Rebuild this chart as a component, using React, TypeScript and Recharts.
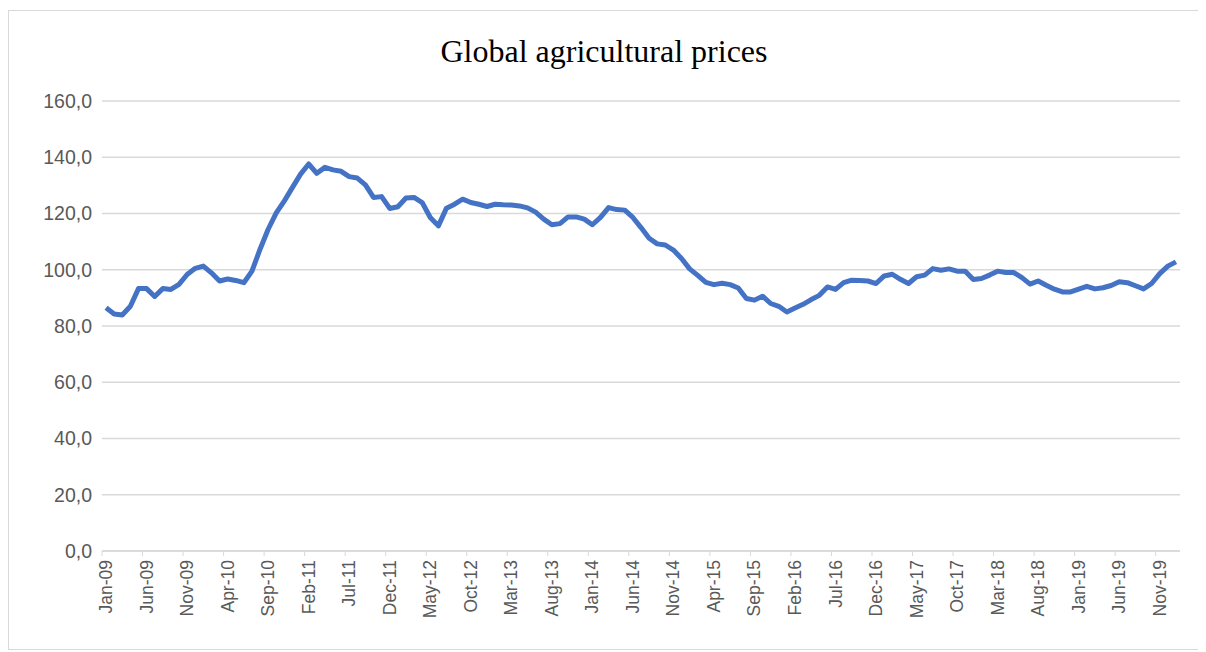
import { CartesianGrid, Line, LineChart, XAxis, YAxis } from "recharts";

// monthly index, Jan-09 .. Jan-20
const prices = [
  86.5, 84.3, 83.9, 87.0, 93.3, 93.3, 90.5, 93.3, 93.0, 94.8, 98.3, 100.5,
  101.3, 98.9, 96.0, 96.7, 96.2, 95.4, 99.5, 107.3, 114.4, 120.2, 124.5, 129.3,
  134.0, 137.6, 134.3, 136.4, 135.5, 135.0, 133.1, 132.6, 130.2, 125.7, 126.0, 121.8,
  122.4, 125.5, 125.7, 123.9, 118.6, 115.6, 121.9, 123.3, 125.1, 123.9, 123.3, 122.5,
  123.3, 123.1, 123.0, 122.7, 122.0, 120.5, 118.0, 116.0, 116.4, 118.8, 118.8, 118.0,
  116.0, 118.6, 122.1, 121.4, 121.2, 118.6, 115.0, 111.2, 109.2, 108.8, 107.0, 104.0,
  100.3, 98.0, 95.5, 94.7, 95.2, 94.7, 93.5, 89.8, 89.2, 90.6, 88.0, 87.0,
  85.0, 86.4, 87.7, 89.4, 90.9, 93.9, 93.0, 95.4, 96.3, 96.2, 96.0, 95.1,
  97.8, 98.4, 96.6, 95.1, 97.5, 98.1, 100.4, 99.8, 100.3, 99.5, 99.5, 96.5,
  96.9, 98.1, 99.5, 99.0, 99.0, 97.2, 94.9, 96.0, 94.5, 93.1, 92.1, 92.1,
  93.1, 94.1, 93.2, 93.6, 94.4, 95.7, 95.4, 94.3, 93.2, 95.1, 98.6, 101.3,
  102.8,
];

const monthNames = ["Jan", "Feb", "Mar", "Apr", "May", "Jun", "Jul", "Aug", "Sep", "Oct", "Nov", "Dec"];
const months = prices.map(
  (_, i) => `${monthNames[i % 12]}-${String(9 + Math.floor(i / 12)).padStart(2, "0")}`
);
const yTicks = [0, 20, 40, 60, 80, 100, 120, 140, 160];

const data = months.map((month, i) => ({ month, price: prices[i] }));

const W = 1190;
const H = 638;
const PLOT_LEFT = 93;
const PLOT_RIGHT = 1171;
const HALF_STEP = (PLOT_RIGHT - PLOT_LEFT) / prices.length / 2;

const sans = "'Liberation Sans', Arial, sans-serif";

function MonthTick(props: any) {
  const { x, y, payload } = props;
  return (
    <g>
      <line x1={x - HALF_STEP} x2={x - HALF_STEP} y1={y} y2={y + 5} stroke="#d9d9d9" />
      <text
        x={x}
        y={y + 9}
        transform={`rotate(-90, ${x}, ${y + 9})`}
        textAnchor="end"
        dominantBaseline="central"
        fontFamily={sans}
        fontSize={17.5}
        fill="#595959"
      >
        {payload.value}
      </text>
    </g>
  );
}

export default function App() {
  return (
    <div
      style={{
        position: "relative",
        width: W,
        height: H,
        marginTop: 2,
        border: "1px solid #d9d9d9",
        background: "#fff",
      }}
    >
      <div
        style={{
          position: "absolute",
          top: 24,
          left: 0,
          width: W,
          textAlign: "center",
          fontFamily: "'Times New Roman', 'Liberation Serif', serif",
          fontSize: 32,
          lineHeight: "32px",
          color: "#000",
        }}
      >
        Global agricultural prices
      </div>
      <LineChart width={W} height={H} data={data} margin={{ top: 90, right: W - PLOT_RIGHT, bottom: 0, left: 0 }}>
        <CartesianGrid vertical={false} stroke="#d9d9d9" strokeWidth={1.3} />
        <XAxis
          dataKey="month"
          interval={4}
          height={98}
          padding={{ left: HALF_STEP, right: HALF_STEP }}
          axisLine={{ stroke: "#d9d9d9", strokeWidth: 1.3 }}
          tickLine={false}
          tickSize={0}
          tickMargin={0}
          tick={<MonthTick />}
        />
        <YAxis
          width={PLOT_LEFT}
          domain={[0, 160]}
          ticks={yTicks}
          axisLine={false}
          tickLine={false}
          tickSize={0}
          tickMargin={10}
          tickFormatter={(v: number) => v.toFixed(1).replace(".", ",")}
          tick={{ fontFamily: sans, fontSize: 19.5, fill: "#595959" }}
        />
        <Line
          type="linear"
          dataKey="price"
          stroke="#4472c4"
          strokeWidth={5}
          strokeLinejoin="round"
          dot={false}
          isAnimationActive={false}
        />
      </LineChart>
    </div>
  );
}
